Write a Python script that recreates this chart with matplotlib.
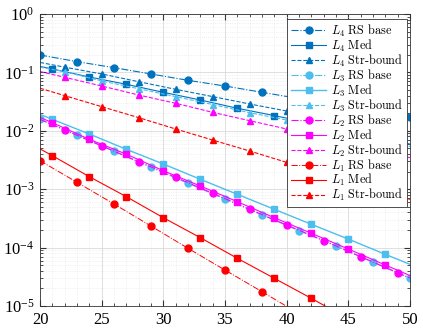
import numpy as np
import matplotlib
matplotlib.use("Agg")
import matplotlib.pyplot as plt
from matplotlib.ticker import FixedLocator, LogLocator, NullFormatter
from matplotlib.font_manager import FontProperties

plt.rcParams['mathtext.fontset'] = 'stix'
plt.rcParams['font.family'] = 'Liberation Serif'

# values (x = n, y = error)
x_a = [20, 23, 26, 29, 32, 35, 38, 41, 44, 47, 50]
x_b = [20, 21, 24, 27, 30, 33, 36, 39, 42, 45, 48, 50]
x_c = [20, 22, 25, 28, 31, 34, 37, 40, 43, 46, 49, 50]

l4_rs = [0.1986, 0.1528, 0.1205, 0.0940, 0.0731, 0.0585, 0.0456, 0.0357, 0.0279, 0.0219, 0.0170]
l4_med = [0.1265, 0.1143, 0.0834, 0.0625, 0.0456, 0.0337, 0.0243, 0.0182, 0.0135, 0.0100, 0.00724, 0.00593]
l4_str = [0.148, 0.123, 0.094, 0.0693, 0.0513, 0.0385, 0.0288, 0.0218, 0.0162, 0.0120, 0.0091, 0.0083]

l3_rs = [0.0158, 0.00847, 0.00451, 0.00237, 0.00126, 0.000679, 0.000363, 0.000195, 0.000107, 5.62e-5, 2.98e-5]
l3_med = [0.0191, 0.0157, 0.00881, 0.00482, 0.00270, 0.00148, 0.000818, 0.000453, 0.000251, 0.000140, 7.67e-5, 5.18e-5]
l3_str = [0.123, 0.1028, 0.0713, 0.0526, 0.0385, 0.0282, 0.0204, 0.0153, 0.0112, 0.0082, 0.0060, 0.0054]

l2_rs = [0.01567, 0.01033, 0.0055, 0.00295, 0.0016, 0.000851, 0.000453, 0.000244, 0.000132, 7.0e-5, 3.72e-5, 3.02e-5]
l2_med = [0.01694, 0.01377, 0.00714, 0.00398, 0.00207, 0.001135, 0.000611, 0.000325, 0.000176, 9.46e-5, 5.04e-5, 3.32e-5]
l2_str = [0.1033, 0.0824, 0.0585, 0.0410, 0.0296, 0.0207, 0.0149, 0.01074, 0.00759, 0.00537, 0.00389, 0.00346]

l1_rs = [0.003076, 0.001312, 0.000558, 0.000234, 9.73e-5, 4.13e-5, 1.76e-5, 7.4e-6, 3.16e-6, 1.32e-6, 5.6e-7]
l1_med = [0.0049, 0.00375, 0.001637, 0.000745, 0.000325, 0.000148, 6.56e-5, 2.98e-5, 1.355e-5, 6.0e-6, 2.7e-6, 1.58e-6]
l1_str = [0.0536, 0.04, 0.0259, 0.0168, 0.01074, 0.00695, 0.00451, 0.00288, 0.00186, 0.0012, 0.00078, 0.00067]

dblue = '#0072BD'
lblue = '#4DBEEE'
mag = '#FF00FF'
red = '#FF0000'

msize = {'o': 5.0, 's': 3.8, '^': 4.6}

# (label, x, y, color, linestyle, marker, first marker x, linewidth)
series = [
    (r'$L_4\ \mathrm{RS\ base}$', x_a, l4_rs, dblue, '-.', 'o', 20, 0.8),
    (r'$L_4\ \mathrm{Med}$', x_b, l4_med, dblue, '-', 's', 21, 0.8),
    (r'$L_4\ \mathrm{Str\text{-}bound}$', x_c, l4_str, dblue, '--', '^', 22, 0.8),
    (r'$L_3\ \mathrm{RS\ base}$', x_a, l3_rs, lblue, '-.', 'o', 20, 0.8),
    (r'$L_3\ \mathrm{Med}$', x_b, l3_med, lblue, '-', 's', 21, 1.0),
    (r'$L_3\ \mathrm{Str\text{-}bound}$', x_c, l3_str, lblue, '--', '^', 22, 0.8),
    (r'$L_2\ \mathrm{RS\ base}$', x_c, l2_rs, mag, '-.', 'o', 22, 0.8),
    (r'$L_2\ \mathrm{Med}$', x_b, l2_med, mag, '-', 's', 21, 0.8),
    (r'$L_2\ \mathrm{Str\text{-}bound}$', x_c, l2_str, mag, '--', '^', 22, 0.8),
    (r'$L_1\ \mathrm{RS\ base}$', x_a, l1_rs, red, '-.', 'o', 20, 0.7),
    (r'$L_1\ \mathrm{Med}$', x_b, l1_med, red, '-', 's', 21, 0.8),
    (r'$L_1\ \mathrm{Str\text{-}bound}$', x_c, l1_str, red, '--', '^', 22, 0.8),
]

fig = plt.figure(figsize=(4.23, 3.33), dpi=100)
ax = fig.add_axes([0.0946, 0.081, 0.8746, 0.877])

for lab, xs, ys, c, ls, mk, m0, lw in series:
    idx = [i for i, x in enumerate(xs) if (x - m0) % 3 == 0]
    ax.semilogy(xs, ys, color=c, ls=ls, lw=lw, marker=mk, markersize=msize[mk],
                markevery=idx, label=lab)

ax.set_xlim(20, 50)
ax.set_ylim(1e-5, 1)
ax.set_xticks([20, 25, 30, 35, 40, 45, 50])
ax.xaxis.set_minor_locator(FixedLocator(np.arange(20, 51, 1)))
ax.yaxis.set_major_locator(LogLocator(base=10, numticks=10))
ax.yaxis.set_minor_locator(LogLocator(base=10, subs=np.arange(2, 10), numticks=20))
ax.yaxis.set_minor_formatter(NullFormatter())

ax.grid(True, which='major', color='#d9d9d9', lw=0.6)
ax.grid(True, which='minor', color='#e6e6e6', lw=0.5, ls=':')
ax.set_axisbelow(True)

ax.tick_params(which='both', direction='in', top=True, right=True, color='#333333')
ax.tick_params(which='major', length=4, labelsize=12, pad=4)
ax.tick_params(which='minor', length=2)
for s in ax.spines.values():
    s.set_color('#333333')
    s.set_linewidth(0.6)

leg_font = FontProperties(size=8.8, math_fontfamily='cm')
leg = ax.legend(loc='upper right', prop=leg_font, handlelength=2.9,
                labelspacing=-0.09, borderpad=0.3, handletextpad=0.4,
                borderaxespad=0, fancybox=False, framealpha=1,
                edgecolor='#333333', bbox_to_anchor=(0.992, 0.983))
leg.get_frame().set_linewidth(0.6)

fig.savefig('out.png', dpi=100)
